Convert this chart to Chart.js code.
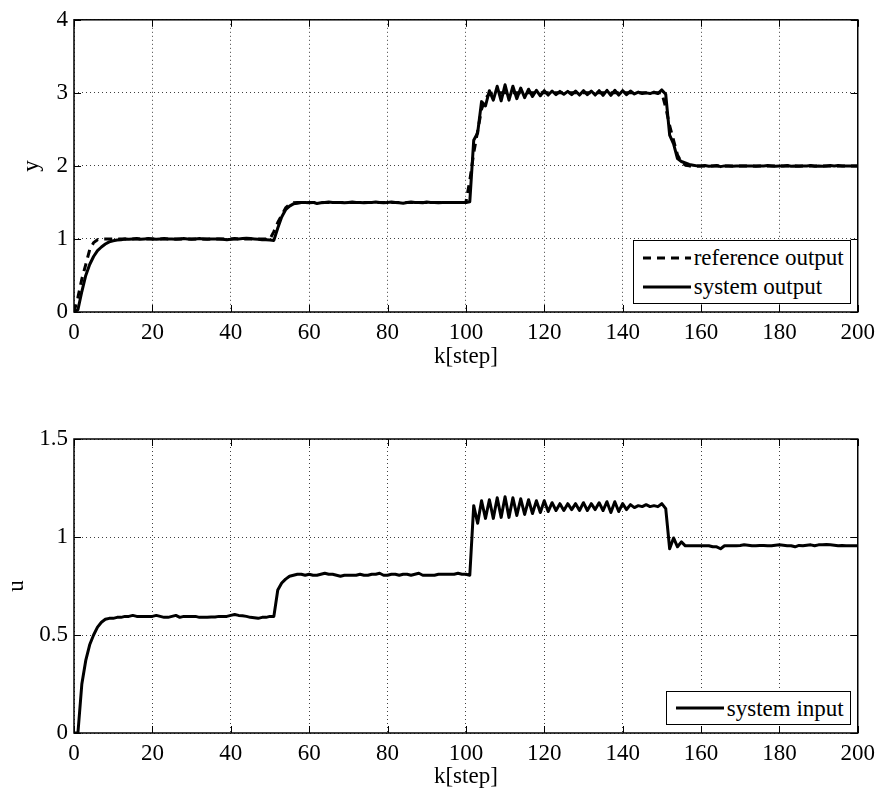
<!DOCTYPE html>
<html><head><meta charset="utf-8">
<script src="https://cdn.jsdelivr.net/npm/chart.js@4.4.1/dist/chart.umd.min.js"></script>
<style>
html,body{margin:0;padding:0;background:#fff;}
#wrap{position:relative;width:882px;height:792px;overflow:hidden;background:#fff;}
.pane{position:absolute;left:0;width:882px;height:396px;}
.legend{position:absolute;background:#fff;border:1.5px solid #000;font-family:"Liberation Serif","DejaVu Serif",serif;font-size:23px;color:#000;box-sizing:border-box;padding:0 6px 0 9px;}
.legend .row{display:flex;align-items:center;height:29px;line-height:29px;white-space:nowrap;}
.legend svg{width:48px;height:10px;margin-right:3px;flex:none;}
#leg1{padding-top:2px;padding-bottom:2px;}
#leg2{padding-top:1.5px;padding-bottom:1.5px;}
</style></head>
<body>
<div id="wrap">
 <div class="pane" style="top:0"><canvas id="c1"></canvas></div>
 <div class="pane" style="top:396px"><canvas id="c2"></canvas></div>
 <div id="leg1" class="legend"></div>
 <div id="leg2" class="legend"></div>
</div>
<script>
// ---- data ----
const steps = Array.from({length: 201}, (_, i) => i); // k = 0..200
const xTicks = [0, 20, 40, 60, 80, 100, 120, 140, 160, 180, 200];
const yTicksTop = [0, 1, 2, 3, 4];
const yTicksBottom = [0, 0.5, 1, 1.5];
const seriesLabels = ['reference output', 'system output', 'system input'];

const referenceOutput = [
 0, 0.2, 0.45, 0.65, 0.85, 0.95, 0.99, 1, 1, 1,
 1, 1, 1, 1, 1, 1, 1, 1, 1, 1,
 1, 1, 1, 1, 1, 1, 1, 1, 1, 1,
 1, 1, 1, 1, 1, 1, 1, 1, 1, 1,
 1, 1, 1, 1, 1, 1, 1, 1, 1, 1,
 1, 1.1, 1.225, 1.325, 1.425, 1.475, 1.495, 1.5, 1.5, 1.5,
 1.5, 1.5, 1.5, 1.5, 1.5, 1.5, 1.5, 1.5, 1.5, 1.5,
 1.5, 1.5, 1.5, 1.5, 1.5, 1.5, 1.5, 1.5, 1.5, 1.5,
 1.5, 1.5, 1.5, 1.5, 1.5, 1.5, 1.5, 1.5, 1.5, 1.5,
 1.5, 1.5, 1.5, 1.5, 1.5, 1.5, 1.5, 1.5, 1.5, 1.5,
 1.5, 1.8, 2.175, 2.475, 2.775, 2.925, 2.985, 3, 3, 3,
 3, 3, 3, 3, 3, 3, 3, 3, 3, 3,
 3, 3, 3, 3, 3, 3, 3, 3, 3, 3,
 3, 3, 3, 3, 3, 3, 3, 3, 3, 3,
 3, 3, 3, 3, 3, 3, 3, 3, 3, 3,
 3, 2.8, 2.55, 2.35, 2.15, 2.05, 2.01, 2, 2, 2,
 2, 2, 2, 2, 2, 2, 2, 2, 2, 2,
 2, 2, 2, 2, 2, 2, 2, 2, 2, 2,
 2, 2, 2, 2, 2, 2, 2, 2, 2, 2,
 2, 2, 2, 2, 2, 2, 2, 2, 2, 2,
 2
];

const systemOutput = [
 0, 0.03, 0.28, 0.5, 0.65, 0.76, 0.84, 0.89, 0.93, 0.96,
 0.975, 0.985, 0.99, 1.0, 0.995, 1.0, 1.005, 0.995, 1.0, 1.005,
 1.0, 0.995, 1.0, 1.005, 1.0, 1.0, 0.995, 1.0, 1.005, 1.0,
 0.995, 1.0, 1.005, 1.0, 0.995, 1.0, 1.0, 1.0, 0.995, 0.99,
 0.995, 1.005, 1.0, 1.005, 1.01, 1.005, 1.0, 0.995, 0.99, 0.99,
 0.985, 0.98, 1.15, 1.3, 1.4, 1.45, 1.48, 1.49, 1.5, 1.5,
 1.495, 1.5, 1.485, 1.495, 1.5, 1.505, 1.5, 1.5, 1.5, 1.495,
 1.5, 1.505, 1.5, 1.5, 1.495, 1.5, 1.5, 1.505, 1.5, 1.495,
 1.5, 1.505, 1.5, 1.495, 1.49, 1.5, 1.505, 1.5, 1.5, 1.495,
 1.505, 1.5, 1.5, 1.495, 1.5, 1.5, 1.5, 1.5, 1.5, 1.5,
 1.5, 1.51, 2.35, 2.45, 2.88, 2.82, 3.03, 2.9, 3.09, 2.89,
 3.11, 2.9, 3.09, 2.92, 3.065, 2.935, 3.05, 2.95, 3.035, 2.96,
 3.03, 2.97, 3.025, 2.975, 3.02, 2.98, 3.02, 2.975, 3.025, 2.97,
 3.03, 2.975, 3.025, 2.97, 3.03, 2.965, 3.035, 2.965, 3.035, 2.97,
 3.03, 2.975, 3.025, 2.985, 3.01, 2.99, 3.0, 2.99, 3.01, 2.99,
 3.04, 2.98, 2.42, 2.3, 2.1, 2.06, 2.04, 2.02, 2.01, 2.0,
 2.0, 2.005, 1.995, 2.0, 2.005, 1.99, 2.0, 2.0, 1.995, 2.0,
 2.0, 2.0, 2.0, 2.0, 1.995, 2.0, 2.0, 2.005, 2.0, 1.995,
 2.0, 2.0, 2.005, 1.995, 2.0, 1.995, 2.0, 2.0, 2.005, 1.995,
 2.0, 1.995, 2.0, 2.005, 2.0, 2.005, 2.0, 2.0, 2.0, 2.0,
 2.0
];

const systemInput = [
 0, 0, 0.25, 0.37, 0.45, 0.5, 0.54, 0.565, 0.58, 0.585,
 0.585, 0.59, 0.59, 0.595, 0.595, 0.6, 0.595, 0.595, 0.595, 0.595,
 0.595, 0.6, 0.595, 0.59, 0.59, 0.595, 0.6, 0.59, 0.595, 0.595,
 0.595, 0.595, 0.59, 0.59, 0.59, 0.592, 0.592, 0.595, 0.595, 0.595,
 0.6, 0.605, 0.6, 0.598, 0.595, 0.59, 0.588, 0.585, 0.59, 0.59,
 0.595, 0.595, 0.73, 0.765, 0.785, 0.8, 0.805, 0.81, 0.81, 0.805,
 0.81, 0.805, 0.805, 0.81, 0.815, 0.81, 0.81, 0.805, 0.8, 0.805,
 0.805, 0.805, 0.805, 0.81, 0.805, 0.805, 0.81, 0.81, 0.815, 0.805,
 0.805, 0.81, 0.81, 0.805, 0.81, 0.81, 0.805, 0.81, 0.815, 0.805,
 0.805, 0.805, 0.805, 0.81, 0.81, 0.81, 0.81, 0.81, 0.815, 0.81,
 0.81, 0.805, 1.16, 1.07, 1.185, 1.095, 1.19, 1.095, 1.2, 1.1,
 1.205, 1.1, 1.2, 1.11, 1.195, 1.115, 1.19, 1.12, 1.185, 1.125,
 1.185, 1.13, 1.175, 1.135, 1.17, 1.135, 1.17, 1.14, 1.17, 1.135,
 1.175, 1.135, 1.17, 1.14, 1.175, 1.135, 1.18, 1.125, 1.18, 1.13,
 1.17, 1.14, 1.165, 1.15, 1.16, 1.155, 1.165, 1.155, 1.16, 1.155,
 1.17, 1.145, 0.94, 0.995, 0.95, 0.975, 0.955, 0.955, 0.955, 0.955,
 0.955, 0.955, 0.955, 0.95, 0.95, 0.94, 0.955, 0.955, 0.955, 0.955,
 0.957, 0.96, 0.958, 0.955, 0.955, 0.957, 0.957, 0.955, 0.955, 0.958,
 0.96, 0.958, 0.955, 0.955, 0.95, 0.957, 0.955, 0.958, 0.96, 0.955,
 0.96, 0.96, 0.962, 0.96, 0.958, 0.955, 0.957, 0.955, 0.955, 0.955,
 0.955
];

// ---- rendering ----
const FONT = '"Liberation Serif", "DejaVu Serif", serif';
Chart.defaults.font.family = FONT;
Chart.defaults.font.size = 23;
Chart.defaults.color = '#000';

const toXY = (vals) => steps.map((k, i) => ({x: k, y: vals[i]}));

const framePlugin = {
  id: 'frame',
  afterDraw(chart) {
    const {ctx, chartArea: a, scales: {x, y}} = chart;
    const L = 7;
    ctx.save();
    ctx.strokeStyle = '#000';
    ctx.lineWidth = 1;
    ctx.beginPath();
    x.ticks.forEach(t => {
      const p = Math.round(x.getPixelForValue(t.value)) + 0.5;
      ctx.moveTo(p, a.bottom); ctx.lineTo(p, a.bottom - L);
      ctx.moveTo(p, a.top); ctx.lineTo(p, a.top + L);
    });
    y.ticks.forEach(t => {
      const p = Math.round(y.getPixelForValue(t.value)) + 0.5;
      ctx.moveTo(a.left, p); ctx.lineTo(a.left + L, p);
      ctx.moveTo(a.right, p); ctx.lineTo(a.right - L, p);
    });
    ctx.stroke();
    ctx.lineWidth = 1.5;
    ctx.strokeRect(a.left, a.top, a.right - a.left, a.bottom - a.top);
    ctx.restore();
  }
};

function htmlLegend(divId) {
  return {
    id: 'htmlLegend',
    afterRender(chart) {
      const div = document.getElementById(divId);
      const wrap = document.getElementById('wrap');
      const paneTop = chart.canvas.parentNode.offsetTop;
      if (!div.dataset.built) {
        chart.data.datasets.forEach(ds => {
          const row = document.createElement('div');
          row.className = 'row';
          const dash = (ds.borderDash && ds.borderDash.length) ? ds.borderDash.join(' ') : 'none';
          row.innerHTML = '<svg viewBox="0 0 48 10"><line x1="0" y1="5" x2="48" y2="5" stroke="#000" stroke-width="3" stroke-dasharray="' + dash + '"/></svg>';
          const span = document.createElement('span');
          span.textContent = ds.label;
          row.appendChild(span);
          div.appendChild(row);
        });
        div.dataset.built = '1';
      }
      const a = chart.chartArea;
      div.style.right = (wrap.clientWidth - (a.right - 7)) + 'px';
      div.style.bottom = (wrap.clientHeight - (paneTop + a.bottom - 8)) + 'px';
    }
  };
}

function makeChart(id, datasets, yMin, yMax, yTickList, yTitle, yTitlePad, padTop, xHeight, xTitlePadBottom, legendId) {
  return new Chart(document.getElementById(id), {
    type: 'line',
    data: {datasets},
    options: {
      responsive: true,
      maintainAspectRatio: false,
      animation: false,
      devicePixelRatio: 1,
      layout: {padding: {top: padTop, right: 23, left: 0, bottom: 0}},
      plugins: {legend: {display: false}, tooltip: {enabled: false}},
      elements: {point: {radius: 0}, line: {tension: 0, borderJoinStyle: 'round'}},
      scales: {
        x: {
          type: 'linear', min: 0, max: 200,
          afterBuildTicks: s => { s.ticks = xTicks.map(v => ({value: v})); },
          ticks: {padding: 7, font: {family: FONT, size: 23}, maxRotation: 0, callback: v => String(v)},
          grid: {color: 'rgba(0,0,0,0.75)', lineWidth: 1, drawTicks: false},
          border: {display: false, dash: [1, 3]},
          title: {display: true, text: 'k[step]', font: {family: FONT, size: 23}, padding: {top: 0, bottom: xTitlePadBottom}},
          afterFit: s => { s.height = xHeight; }
        },
        y: {
          type: 'linear', min: yMin, max: yMax,
          afterBuildTicks: s => { s.ticks = yTickList.map(v => ({value: v})); },
          ticks: {padding: 6, font: {family: FONT, size: 23}, callback: v => String(v)},
          grid: {color: 'rgba(0,0,0,0.75)', lineWidth: 1, drawTicks: false},
          border: {display: false, dash: [1, 3]},
          title: {display: true, text: yTitle, font: {family: FONT, size: 23}, padding: {top: yTitlePad, bottom: 0}},
          afterFit: s => { s.width = 74; }
        }
      }
    },
    plugins: [framePlugin, htmlLegend(legendId)]
  });
}

makeChart('c1', [
  {label: seriesLabels[0], data: toXY(referenceOutput), borderColor: '#000', borderWidth: 3, borderDash: [8, 6], order: 1, fill: false},
  {label: seriesLabels[1], data: toXY(systemOutput), borderColor: '#000', borderWidth: 3, order: 0, fill: false}
], 0, 4, yTicksTop, 'y', 18, 19, 84, 25, 'leg1');

makeChart('c2', [
  {label: seriesLabels[2], data: toXY(systemInput), borderColor: '#000', borderWidth: 3, fill: false}
], 0, 1.5, yTicksBottom, 'u', 3, 43, 59, 1, 'leg2');
</script>
</body></html>
